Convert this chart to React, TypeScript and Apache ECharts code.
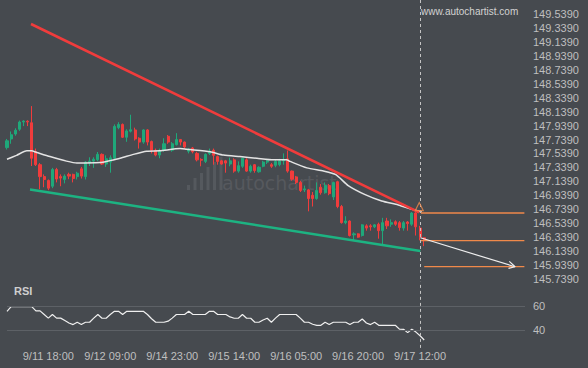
import React, { useEffect, useRef } from 'react';
import * as echarts from 'echarts';

// Hourly candles [open, close, low, high], first = 9/11 08:00
const candles: number[][] = [
  [147.623, 147.720, 147.595, 147.747],
  [147.747, 147.807, 147.678, 147.854],
  [147.817, 147.872, 147.793, 147.900],
  [147.886, 147.990, 147.862, 148.010],
  [147.990, 148.003, 147.931, 148.015],
  [148.001, 147.990, 147.931, 148.015],
  [147.979, 147.470, 147.359, 148.218],
  [147.567, 147.378, 147.359, 147.609],
  [147.378, 147.207, 147.027, 147.401],
  [147.207, 147.166, 147.055, 147.239],
  [147.152, 147.041, 147.013, 147.166],
  [147.069, 147.308, 147.041, 147.332],
  [147.308, 147.172, 147.124, 147.332],
  [147.207, 147.186, 147.069, 147.239],
  [147.166, 147.214, 147.110, 147.239],
  [147.239, 147.214, 147.170, 147.263],
  [147.239, 147.179, 147.124, 147.249],
  [147.207, 147.256, 147.166, 147.276],
  [147.318, 147.214, 147.179, 147.346],
  [147.207, 147.415, 147.166, 147.429],
  [147.401, 147.429, 147.359, 147.484],
  [147.429, 147.456, 147.332, 147.484],
  [147.449, 147.526, 147.429, 147.560],
  [147.526, 147.387, 147.373, 147.540],
  [147.387, 147.463, 147.346, 147.512],
  [147.415, 147.477, 147.263, 147.512],
  [147.470, 147.927, 147.449, 147.955],
  [147.909, 147.955, 147.886, 147.987],
  [147.955, 147.771, 147.761, 147.969],
  [147.771, 147.862, 147.706, 147.886],
  [147.858, 147.879, 147.840, 148.094],
  [147.876, 147.747, 147.724, 147.909],
  [147.757, 147.702, 147.609, 147.771],
  [147.702, 147.876, 147.678, 147.886],
  [147.876, 147.702, 147.654, 147.886],
  [147.710, 147.585, 147.540, 147.724],
  [147.585, 147.516, 147.498, 147.609],
  [147.516, 147.585, 147.470, 147.609],
  [147.585, 147.678, 147.563, 147.757],
  [147.785, 147.702, 147.678, 147.803],
  [147.585, 147.678, 147.563, 147.702],
  [147.664, 147.738, 147.654, 147.830],
  [147.738, 147.702, 147.654, 147.747],
  [147.702, 147.632, 147.609, 147.710],
  [147.571, 147.599, 147.540, 147.618],
  [147.618, 147.563, 147.540, 147.632],
  [147.540, 147.447, 147.425, 147.563],
  [147.454, 147.443, 147.355, 147.470],
  [147.425, 147.526, 147.401, 147.540],
  [147.540, 147.571, 147.516, 147.609],
  [147.585, 147.512, 147.378, 147.609],
  [147.494, 147.425, 147.378, 147.508],
  [147.433, 147.387, 147.378, 147.447],
  [147.433, 147.401, 147.263, 147.447],
  [147.387, 147.433, 147.355, 147.480],
  [147.447, 147.286, 147.263, 147.470],
  [147.286, 147.364, 147.263, 147.425],
  [147.355, 147.470, 147.332, 147.480],
  [147.447, 147.286, 147.276, 147.470],
  [147.286, 147.355, 147.263, 147.378],
  [147.378, 147.294, 147.263, 147.387],
  [147.276, 147.341, 147.263, 147.355],
  [147.355, 147.415, 147.341, 147.433],
  [147.415, 147.433, 147.387, 147.461],
  [147.378, 147.355, 147.332, 147.401],
  [147.369, 147.425, 147.341, 147.447],
  [147.378, 147.433, 147.355, 147.461],
  [147.433, 147.447, 147.378, 147.540],
  [147.461, 147.286, 147.263, 147.581],
  [147.286, 147.170, 147.148, 147.294],
  [147.203, 147.124, 147.101, 147.217],
  [147.124, 147.009, 146.986, 147.148],
  [147.017, 147.031, 146.986, 147.078],
  [147.017, 146.893, 146.709, 147.031],
  [146.940, 146.893, 146.778, 146.986],
  [146.893, 147.009, 146.875, 147.124],
  [147.055, 146.976, 146.948, 147.101],
  [146.976, 147.078, 146.962, 147.124],
  [147.078, 146.962, 146.940, 147.101],
  [146.916, 147.124, 146.871, 147.134],
  [147.134, 146.778, 146.754, 147.148],
  [146.778, 146.547, 146.533, 146.801],
  [146.547, 146.570, 146.524, 146.639],
  [146.570, 146.362, 146.348, 146.580],
  [146.372, 146.386, 146.293, 146.408],
  [146.386, 146.339, 146.330, 146.394],
  [146.362, 146.515, 146.348, 146.524],
  [146.501, 146.469, 146.432, 146.524],
  [146.501, 146.487, 146.432, 146.524],
  [146.487, 146.515, 146.469, 146.524],
  [146.524, 146.432, 146.317, 146.547],
  [146.432, 146.547, 146.224, 146.616],
  [146.570, 146.501, 146.455, 146.616],
  [146.524, 146.547, 146.487, 146.594],
  [146.560, 146.524, 146.501, 146.580],
  [146.547, 146.477, 146.432, 146.570],
  [146.469, 146.547, 146.432, 146.570],
  [146.556, 146.533, 146.432, 146.570],
  [146.524, 146.685, 146.501, 146.699],
  [146.685, 146.487, 146.362, 146.699],
  [146.469, 146.339, 146.293, 146.501],
  [146.330, 146.293, 146.210, 146.339],
];

// Moving average, read at sparse candle positions
const maIdx = [0, 2.3, 4.8, 5.9, 7.2, 10.4, 14.4, 16.9, 22.5, 24.9, 27.4, 30.6, 33.8, 37, 41.9, 43.5, 44.3, 49.2, 52.4, 56.4, 60.5, 64.5, 67.7, 68.5, 72.6, 76.6, 79.6, 82.6, 86.7, 90.7, 94.7, 98, 100.4];
const maVal = [147.456, 147.512, 147.577, 147.577, 147.553, 147.494, 147.429, 147.401, 147.408, 147.436, 147.470, 147.526, 147.571, 147.577, 147.609, 147.599, 147.595, 147.563, 147.516, 147.494, 147.470, 147.447, 147.447, 147.425, 147.332, 147.286, 147.235, 147.078, 146.948, 146.857, 146.801, 146.740, 146.699];

const rsi = [
  55.6, 59.5, 59.5, 59.5, 59.5, 59.5, 59.5, 56, 56, 53,
  50, 53, 50, 50, 48, 46, 44.7, 46.6, 44.7, 46.6,
  46.6, 50, 53, 49.9, 49.9, 53, 55.6, 55.6, 53, 55.6,
  55.6, 55.6, 55.6, 55.6, 53, 49.5, 46.6, 46.6, 46.6, 47.5,
  50, 53, 53, 53, 55.6, 53, 53, 53, 53, 55.6,
  55.6, 53, 53, 53, 51, 49.9, 49.9, 53, 49.9, 49.9,
  46.6, 46.6, 48.5, 49.9, 46.6, 50, 53, 53, 53, 53,
  53, 50, 46.6, 46.6, 45, 44.1, 44.1, 46.6, 44.7, 46.6,
  46.6, 46.6, 46.6, 44.7, 46.6, 46.6, 49.3, 46, 44.7, 46.6,
  44.1, 44.1, 44.1, 44.1, 44.1, 41, 40.8, 38.1, 40.8, 38.5,
  35.5, 32,
];

const tickIdx = [10, 25, 40, 55, 70, 85, 100];
const tickLabels = ['9/11 18:00', '9/12 09:00', '9/14 23:00', '9/15 14:00', '9/16 05:00', '9/16 20:00', '9/17 12:00'];

// Pattern lines [index, price]
const resistance = [[5.81, 149.395], [99.76, 146.695]];
const support = [[5.57, 147.023], [100.07, 146.141]];
const levelPrices = [146.685, 146.289, 145.915];
const levelStart = [100.2, 100.1, 101.0];
const levelEnd = 125.25;
const forecast = [[100.1, 146.33], [123, 145.915]];
const arrowHead = [[121.6, 145.992], [123, 145.915], [121.4, 145.891]];
const breakoutMark = [99.8, 146.778];
const nowIdx = 100.1;

const BG = '#464a4f';
const GREEN = '#1fa87a';
const RED = '#f03c3c';
const ORANGE = '#f0894a';
const LABEL = '#bfbfbf';
const FONT = 'Liberation Sans, Arial, sans-serif';

export default function App() {
  const ref = useRef<HTMLDivElement>(null);
  useEffect(() => {
    if (!ref.current) return;
    const chart = echarts.init(ref.current, null, { renderer: 'svg' });
    const labelMap: Record<number, string> = {};
    tickIdx.forEach((v, k) => (labelMap[v] = tickLabels[k]));
    const plainLine = (data: number[][], color: string, width: number, z = 3) => ({
      type: 'line',
      xAxisIndex: 0,
      yAxisIndex: 0,
      data,
      showSymbol: false,
      symbol: 'none',
      silent: true,
      z,
      lineStyle: { color, width },
    });
    const nowLine = {
      silent: true,
      symbol: 'none',
      label: { show: false },
      lineStyle: { color: '#c4c4c4', width: 1, type: [3, 3] },
      data: [{ xAxis: nowIdx }],
    };
    const option: any = {
      animation: false,
      backgroundColor: BG,
      textStyle: { fontFamily: FONT },
      grid: [
        { left: 0, top: -9.8, width: 525, height: 288.8 },
        { left: 7, top: 281.7, width: 518, height: 66.2 },
      ],
      xAxis: [
        { type: 'value', gridIndex: 0, min: -1.695, max: 125.4, show: false },
        {
          type: 'value', gridIndex: 1, min: 0, max: 125.4,
          axisLine: { show: false }, axisTick: { show: false }, splitLine: { show: false },
          axisLabel: {
            customValues: tickIdx,
            formatter: (v: number) => labelMap[v] ?? '',
            color: LABEL, fontSize: 11, margin: 3, fontFamily: FONT,
          },
        },
      ],
      yAxis: [
        {
          type: 'value', gridIndex: 0, position: 'right', min: 145.739, max: 149.739, interval: 0.2,
          axisLine: { show: false }, axisTick: { show: false }, splitLine: { show: false },
          axisLabel: {
            showMaxLabel: false,
            formatter: (v: number) => v.toFixed(4),
            color: LABEL, fontSize: 11, margin: 8, fontFamily: FONT,
          },
        },
        {
          type: 'value', gridIndex: 1, position: 'right', min: 25.5, max: 80,
          axisLine: { show: false }, axisTick: { show: false }, splitLine: { show: false },
          axisLabel: { customValues: [40, 60], color: LABEL, fontSize: 11, margin: 8, fontFamily: FONT },
        },
      ],
      graphic: [
        ...[[187, 5], [193.5, 12], [200, 17], [206.5, 23], [213, 28], [219.5, 33]].map(([x, h]) => ({
          type: 'rect', z: 0, silent: true,
          shape: { x, y: 190 - h, width: 3, height: h },
          style: { fill: '#55595e' },
        })),
        {
          type: 'text', z: 0, silent: true, x: 222, y: 183,
          style: { text: 'autochartist', fill: '#56595e', font: `19px DejaVu Sans, ${FONT}`, verticalAlign: 'middle' },
        },
        {
          type: 'text', z: 10, silent: true, x: 421, y: 11,
          style: { text: 'www.autochartist.com', fill: '#d2d2d2', font: `10px ${FONT}`, verticalAlign: 'middle' },
        },
        {
          type: 'text', z: 10, silent: true, x: 14, y: 291,
          style: { text: 'RSI', fill: '#cfcfcf', font: `bold 11px ${FONT}`, verticalAlign: 'middle' },
        },
      ],
      series: [
        {
          type: 'candlestick',
          xAxisIndex: 0,
          yAxisIndex: 0,
          data: candles.map((c, i) => [i, c[0], c[1], c[2], c[3]]),
          encode: { x: 0, y: [1, 2, 3, 4] },
          barWidth: 2.6,
          z: 2,
          itemStyle: { color: GREEN, color0: RED, borderColor: GREEN, borderColor0: RED, borderWidth: 1 },
          markLine: nowLine,
        },
        { ...plainLine(maIdx.map((x, k) => [x, maVal[k]]), '#e4e4e4', 1.5), smooth: 0.2 },
        plainLine(resistance, RED, 2.6, 4),
        plainLine(support, '#1db382', 2.6, 4),
        ...levelPrices.map((p, k) => plainLine([[levelStart[k], p], [levelEnd, p]], ORANGE, 1.3, 4)),
        plainLine(forecast, '#eeeeee', 1.2, 5),
        plainLine(arrowHead, '#eeeeee', 1.2, 5),
        {
          type: 'scatter', xAxisIndex: 0, yAxisIndex: 0, silent: true, z: 6,
          data: [breakoutMark], symbol: 'triangle', symbolSize: [8, 8],
          itemStyle: { color: 'rgba(0,0,0,0)', borderColor: ORANGE, borderWidth: 1.2 },
        },
        {
          type: 'line',
          xAxisIndex: 1,
          yAxisIndex: 1,
          data: rsi.map((v, i) => [i, v]),
          showSymbol: false,
          symbol: 'none',
          silent: true,
          lineStyle: { color: '#efefef', width: 1.2 },
          markLine: {
            silent: true,
            symbol: 'none',
            label: { show: false },
            data: [
              { yAxis: 40, lineStyle: { color: '#5d6166', width: 1, type: 'solid' } },
              { yAxis: 60, lineStyle: { color: '#5d6166', width: 1, type: 'solid' } },
              { xAxis: nowIdx, lineStyle: { color: '#c4c4c4', width: 1, type: [3, 3] } },
            ],
          },
        },
      ],
    };
    chart.setOption(option);
    return () => chart.dispose();
  }, []);
  return <div ref={ref} style={{ width: 588, height: 368, position: 'absolute', left: 0, top: 0 }} />;
}
